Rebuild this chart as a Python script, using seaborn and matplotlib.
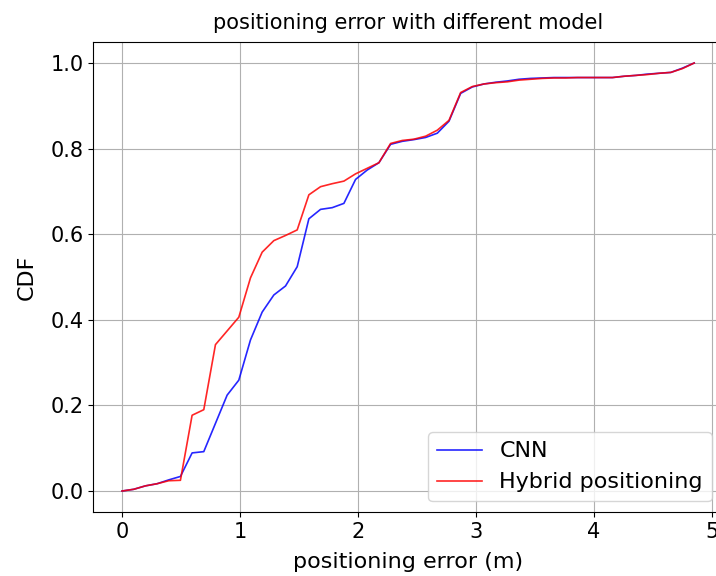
import matplotlib
matplotlib.use("Agg")
import matplotlib.pyplot as plt
import seaborn as sns
import pandas as pd

# positioning error grid (m)
error_m = [0.000, 0.099, 0.198, 0.297, 0.396, 0.495, 0.594, 0.693, 0.792, 0.891,
           0.990, 1.089, 1.188, 1.287, 1.386, 1.485, 1.584, 1.683, 1.782, 1.881,
           1.980, 2.079, 2.178, 2.277, 2.376, 2.475, 2.574, 2.673, 2.772, 2.871,
           2.970, 3.069, 3.168, 3.267, 3.366, 3.465, 3.564, 3.663, 3.762, 3.861,
           3.960, 4.059, 4.158, 4.257, 4.356, 4.455, 4.554, 4.653, 4.752, 4.851]

cdf_cnn = [0.000, 0.004, 0.012, 0.017, 0.026, 0.034, 0.089, 0.092, 0.158, 0.224,
           0.259, 0.353, 0.418, 0.458, 0.479, 0.524, 0.636, 0.658, 0.662, 0.672,
           0.728, 0.750, 0.767, 0.810, 0.817, 0.821, 0.826, 0.836, 0.864, 0.929,
           0.944, 0.951, 0.955, 0.958, 0.962, 0.964, 0.965, 0.966, 0.966, 0.966,
           0.966, 0.966, 0.966, 0.969, 0.971, 0.974, 0.976, 0.978, 0.988, 1.000]

cdf_hybrid = [0.000, 0.004, 0.012, 0.017, 0.024, 0.025, 0.177, 0.190, 0.342, 0.374,
              0.406, 0.498, 0.558, 0.585, 0.597, 0.610, 0.692, 0.711, 0.718, 0.724,
              0.741, 0.754, 0.767, 0.812, 0.819, 0.822, 0.829, 0.843, 0.866, 0.931,
              0.945, 0.951, 0.954, 0.956, 0.960, 0.962, 0.964, 0.965, 0.965, 0.966,
              0.966, 0.966, 0.966, 0.969, 0.971, 0.973, 0.976, 0.978, 0.987, 1.000]

models = ["CNN", "Hybrid positioning"]

df = pd.concat([
    pd.DataFrame({"error": error_m, "cdf": cdf_cnn, "model": models[0]}),
    pd.DataFrame({"error": error_m, "cdf": cdf_hybrid, "model": models[1]}),
])

fig = plt.figure(figsize=(7.16, 5.76), dpi=100)
# axes runs a little past the right edge, like the reference crop
ax = fig.add_axes([0.1305, 0.1104, 0.879, 0.8174])

sns.lineplot(data=df, x="error", y="cdf", hue="model", estimator=None,
             palette={"CNN": "blue", "Hybrid positioning": "red"},
             linewidth=1.2, alpha=0.85, ax=ax)

ax.grid(True)
ax.set_title("positioning error with different model", fontsize=15, pad=9)
ax.set_xlabel("positioning error (m)", fontsize=16, labelpad=7)
ax.set_ylabel("CDF", fontsize=16, labelpad=10)
ax.tick_params(labelsize=15)
ax.legend(loc="lower right", fontsize=16)

fig.savefig("out.png", dpi=100)
